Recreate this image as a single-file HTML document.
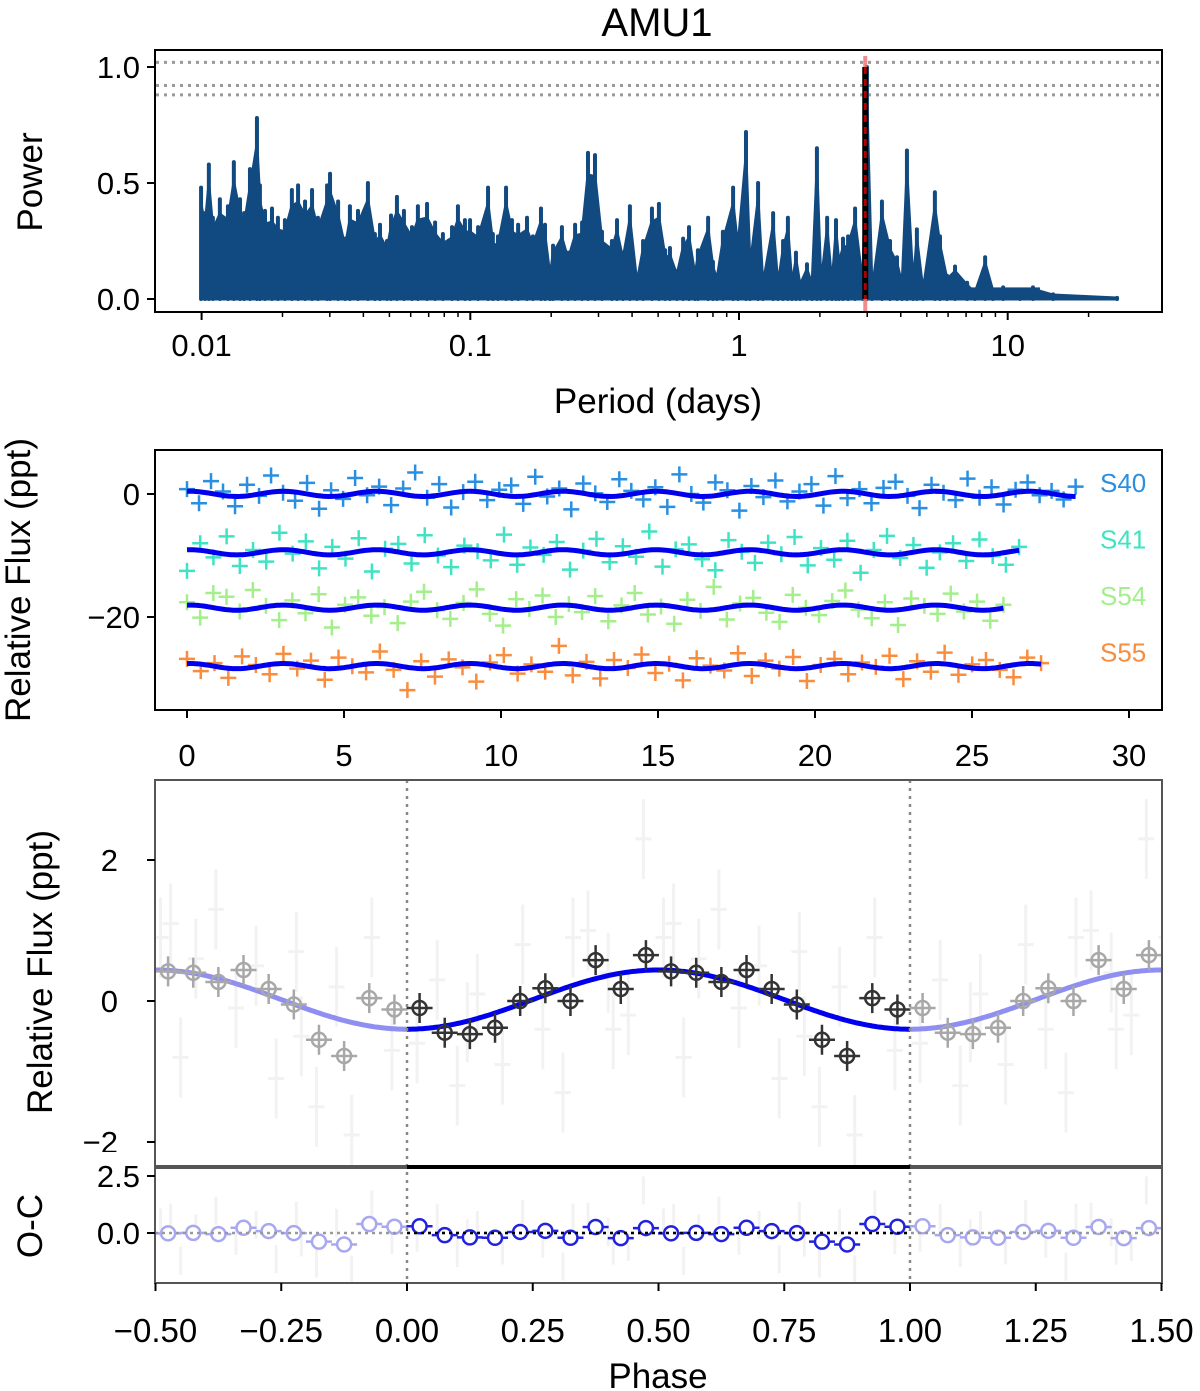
<!DOCTYPE html>
<html><head><meta charset="utf-8"><style>
body{margin:0;background:#fff;}
svg{display:block;font-family:"Liberation Sans",Arial,sans-serif;}
</style></head><body>
<svg id="c" width="1200" height="1391" viewBox="0 0 1200 1391" xmlns="http://www.w3.org/2000/svg"></svg>
<script>
// ---------- Panel 1: periodogram ----------
const pgLogPeriod=[-2.002,-1.987,-1.973,-1.958,-1.932,-1.902,-1.880,-1.857,-1.842,-1.820,-1.794,-1.783,-1.764,-1.738,-1.716,-1.690,-1.664,-1.641,-1.615,-1.589,-1.567,-1.533,-1.522,-1.492,-1.466,-1.448,-1.418,-1.381,-1.355,-1.336,-1.310,-1.295,-1.273,-1.247,-1.217,-1.195,-1.161,-1.131,-1.102,-1.068,-1.046,-1.020,-1.001,-0.971,-0.934,-0.916,-0.897,-0.867,-0.845,-0.822,-0.789,-0.767,-0.737,-0.722,-0.703,-0.692,-0.659,-0.636,-0.610,-0.584,-0.562,-0.536,-0.510,-0.473,-0.454,-0.432,-0.406,-0.380,-0.357,-0.324,-0.298,-0.275,-0.257,-0.231,-0.208,-0.186,-0.164,-0.153,-0.115,-0.097,-0.082,-0.060,-0.022,-0.004,0.026,0.041,0.071,0.089,0.127,0.145,0.164,0.182,0.197,0.212,0.227,0.253,0.272,0.290,0.305,0.328,0.346,0.361,0.372,0.387,0.406,0.432,0.461,0.476,0.495,0.532,0.562,0.588,0.607,0.625,0.648,0.662,0.685,0.729,0.748,0.774,0.804,0.849,0.878,0.916,0.945,0.983,1.046,1.094,1.169,1.407];
const pgPower=[0.48,0.37,0.58,0.35,0.43,0.40,0.59,0.43,0.37,0.56,0.78,0.49,0.38,0.39,0.35,0.34,0.47,0.49,0.42,0.47,0.35,0.49,0.54,0.42,0.26,0.40,0.38,0.50,0.28,0.32,0.25,0.36,0.44,0.38,0.31,0.40,0.41,0.33,0.28,0.31,0.40,0.34,0.34,0.31,0.48,0.28,0.27,0.48,0.34,0.32,0.35,0.27,0.39,0.32,0.11,0.23,0.31,0.20,0.32,0.33,0.63,0.62,0.29,0.25,0.34,0.20,0.40,0.08,0.25,0.39,0.41,0.21,0.22,0.12,0.26,0.31,0.12,0.21,0.35,0.16,0.10,0.29,0.48,0.26,0.72,0.16,0.50,0.07,0.37,0.07,0.25,0.35,0.07,0.20,0.07,0.15,0.07,0.65,0.07,0.35,0.07,0.34,0.18,0.26,0.27,0.39,0.07,1.00,0.04,0.42,0.25,0.18,0.07,0.64,0.07,0.30,0.04,0.46,0.27,0.10,0.14,0.07,0.03,0.18,0.04,0.05,0.01,0.05,0.02,0.005];
const pgFapLevels=[1.02,0.92,0.88];
const pgBestPeriod=2.95;
const pgXTicks=[0.01,0.1,1,10];
const pgXTickLabels=["0.01","0.1","1","10"];
const pgYTicks=[0,0.5,1.0];
const pgYTickLabels=["0.0","0.5","1.0"];

// ---------- Panel 2: light curves ----------
const sectorNames=["S40","S41","S54","S55"];
const sectorOffsets=[0,-9.5,-18.5,-28];
const sectorSpans=[28.3,26.5,26.0,27.2];
const sectorColors=["#2a8fe0","#3fe3c3","#a4ee8c","#f98d3f"];
const s40Flux=[0.8,-1.5,2.1,0.4,-2.0,1.5,-0.3,3.0,0.2,-1.1,1.8,-2.4,0.6,-0.8,2.6,-0.2,1.2,-1.8,0.9,3.5,-0.6,1.6,-2.2,0.3,2.0,-1.0,0.7,1.4,-1.6,2.8,-0.4,0.9,-2.5,1.7,0.1,-1.3,2.4,0.5,-0.9,1.1,-2.1,3.2,0.0,-1.4,1.9,0.6,-2.7,1.3,-0.5,2.2,-1.2,0.4,1.6,-1.9,2.9,-0.7,0.8,-1.5,1.0,2.0,-0.3,-2.3,1.5,0.2,-1.0,2.5,-0.6,1.1,-1.7,0.7,1.9,-0.2,0.5,-0.9,1.2];
const s41Flux=[-3.0,1.5,-0.8,2.6,-2.2,0.4,-1.5,3.2,-0.2,1.8,-2.6,0.9,-1.0,2.3,-3.1,0.6,1.4,-1.8,2.8,-0.5,-2.4,1.1,0.2,-1.3,2.9,-2.0,0.8,-0.4,1.7,-2.8,0.3,2.2,-1.6,1.0,-0.7,3.4,-2.3,0.5,1.3,-1.1,-2.9,2.0,0.1,-1.7,1.6,-0.3,2.5,-2.1,0.7,-1.2,1.9,-3.3,0.4,2.7,-0.9,1.2,-2.5,0.0,1.5,-1.4,2.1,-0.6,-2.0,0.9];
const s54Flux=[0.9,-1.6,2.4,1.8,-0.6,2.9,0.3,-2.0,1.2,-0.9,2.2,-3.2,0.5,1.7,-1.3,0.1,-2.5,1.0,2.6,-0.4,-1.8,0.8,3.0,-1.0,-2.9,1.4,-0.2,2.0,-1.5,0.6,-0.7,1.9,-2.2,0.4,2.4,-1.1,0.2,-2.6,1.3,-0.5,3.4,-1.9,0.7,1.6,-0.8,-2.3,2.1,0.0,-1.2,1.1,2.8,-0.3,-1.7,0.9,-2.8,1.5,0.3,-1.0,2.3,-0.6,1.0,-2.1,0.5];
const s55Flux=[1.2,-0.8,0.5,-1.9,1.6,0.2,-1.3,2.0,-0.4,0.9,-2.2,1.4,0.0,-1.0,2.4,-0.6,-3.9,0.8,-1.7,1.1,-0.2,-2.5,0.6,1.8,-1.2,0.3,-0.9,3.3,-1.5,0.7,-2.0,1.0,-0.3,1.9,-1.1,0.4,-2.3,1.3,0.1,-0.7,2.1,-1.6,0.9,-0.4,1.5,-2.4,0.2,1.2,-1.3,0.6,-0.1,1.7,-2.1,0.8,-0.9,2.2,-1.4,0.3,1.0,-0.6,-1.8,1.4,0.5];
const allSectorFlux=[s40Flux,s41Flux,s54Flux,s55Flux];
const modelPeriod=2.97, modelAmp=0.42, modelMean=0.02, modelT0=0.1;
const lcXTicks=[0,5,10,15,20,25,30];
const lcYTicks=[0,-20];
const lcYTickLabels=["0","\u221220"];

// ---------- Panel 3/4: phase-folded ----------
const binPhase=[0.025,0.075,0.125,0.175,0.225,0.275,0.325,0.375,0.425,0.475,0.525,0.575,0.625,0.675,0.725,0.775,0.825,0.875,0.925,0.975];
const binFlux=[-0.10,-0.45,-0.47,-0.38,0.00,0.18,0.00,0.58,0.17,0.65,0.42,0.40,0.27,0.44,0.17,-0.05,-0.55,-0.78,0.04,-0.12];
const rawPhase=[0.02,0.06,0.10,0.14,0.19,0.23,0.27,0.31,0.36,0.40,0.44,0.47,0.51,0.55,0.58,0.62,0.66,0.70,0.74,0.78,0.82,0.86,0.89,0.93,0.97,0.33,0.12,0.53,0.79,0.41];
const rawFlux=[-0.6,0.3,-1.2,0.1,-0.9,0.8,-0.4,-1.3,1.0,0.4,-0.2,2.3,0.9,-0.8,0.6,1.3,-0.1,0.5,-1.1,0.7,-1.5,0.2,-1.9,0.9,-0.7,0.9,-0.3,1.1,-0.5,-0.4];
const phXTicks=[-0.5,-0.25,0,0.25,0.5,0.75,1.0,1.25,1.5];
const phXTickLabels=["\u22120.50","\u22120.25","0.00","0.25","0.50","0.75","1.00","1.25","1.50"];
const phYTicks=[2,0,-2];
const phYTickLabels=["2","0","\u22122"];
const ocYTicks=[2.5,0];
const ocYTickLabels=["2.5","0.0"];

const NS="http://www.w3.org/2000/svg";
const svg=document.getElementById('c');
function mk(tag,attrs,parent){const e=document.createElementNS(NS,tag);for(const k in attrs)e.setAttribute(k,attrs[k]);(parent||svg).appendChild(e);return e;}
function txt(s,x,y,size,anchor,parent,extra){const t=mk('text',Object.assign({x:x,y:y,'font-size':size,'text-anchor':anchor||'middle',fill:'#000'},extra||{}),parent);t.textContent=s;return t;}

const p1x=p=>739+268.7*Math.log10(p);
const p1xl=lp=>739+268.7*lp;
const p1y=v=>299-232*v;
const p2x=t=>187+31.4*t;
const p2y=v=>494-6.15*v;
const p3x=ph=>407+503*ph;
const p3y=v=>1001-70.5*v;
const p4y=v=>1233-22.8*v;
const model=ph=>modelMean-modelAmp*Math.cos(2*Math.PI*ph);

let t=txt("AMU1",657,36,40);



// ===== Panel 1
const g1=mk('g',{});


pgFapLevels.forEach(v=>{const l=mk('line',{x1:156,x2:1161,y1:p1y(v),y2:p1y(v),stroke:'#999','stroke-width':3,'stroke-dasharray':'3,5'},g1);

});
let pts=[[p1xl(pgLogPeriod[0]),p1y(0)]];
pgLogPeriod.forEach((lp,i)=>pts.push([p1xl(lp),p1y(pgPower[i]*0.85)]));
pts.push([p1xl(pgLogPeriod[pgLogPeriod.length-1]),p1y(0)]);
const ptsStr=pts.map(p=>p.join(',')).join(' ');
let pl=mk('polygon',{points:ptsStr,fill:'#114a80',stroke:'#12497f','stroke-width':3,'stroke-linejoin':'round'},g1);


pgLogPeriod.forEach((lp,i)=>{const s=mk('line',{x1:p1xl(lp),x2:p1xl(lp),y1:p1y(0),y2:p1y(pgPower[i]),stroke:'#114a80','stroke-width':4,'stroke-linecap':'round'},g1);

});
let base=mk('rect',{x:p1xl(pgLogPeriod[0]),y:p1y(0.05),width:p1xl(1.12)-p1xl(pgLogPeriod[0]),height:p1y(0)-p1y(0.05),fill:'#114a80'},g1);


let bx=p1x(pgBestPeriod);
let rl=mk('line',{x1:bx,x2:bx,y1:56,y2:312,stroke:'#f07070','stroke-width':4,opacity:0.8},g1);


let pk=mk('line',{x1:bx,x2:bx,y1:p1y(1.0),y2:p1y(0),stroke:'#000','stroke-width':6},g1);


let rd=mk('line',{x1:bx,x2:bx,y1:p1y(1.0),y2:p1y(0),stroke:'#b00000','stroke-width':3,'stroke-dasharray':'7,5'},g1);


let f1=mk('rect',{x:155,y:50,width:1007,height:262,fill:'none',stroke:'#000','stroke-width':2},g1);


pgXTicks.forEach((p,i)=>{mk('line',{x1:p1x(p),x2:p1x(p),y1:312,y2:320,stroke:'#000','stroke-width':2},g1);
let tl=txt(pgXTickLabels[i],p1x(p),356,31,'middle',g1);

});
for(let d=-2;d<=1;d++)for(let m=2;m<=9;m++){const p=m*Math.pow(10,d);if(p>25||p<0.006)continue;mk('line',{x1:p1x(p),x2:p1x(p),y1:312,y2:317,stroke:'#000','stroke-width':1.5},g1);}
pgYTicks.forEach((v,i)=>{mk('line',{x1:147,x2:155,y1:p1y(v),y2:p1y(v),stroke:'#000','stroke-width':2},g1);
let tl=txt(pgYTickLabels[i],140,p1y(v)+11,31,'end',g1);

});
t=txt("Period (days)",658,413,35,'middle',g1);


t=txt("Power",42,182,35,'middle',g1,{transform:'rotate(-90 42 182)'});



// ===== Panel 2
const g2=mk('g',{});


allSectorFlux.forEach((arr,s)=>{
  const n=arr.length;
  arr.forEach((v,i)=>{const tt=i*sectorSpans[s]/(n-1);const x=p2x(tt),y=p2y(sectorOffsets[s]+v);
    const c=mk('path',{d:`M${x-8} ${y}H${x+8}M${x} ${y-8}V${y+8}`,stroke:sectorColors[s],'stroke-width':2.5},g2);
    
    });
  let d='';for(let k=0;k<=300;k++){const tt=k*sectorSpans[s]/300;d+=(k?'L':'M')+p2x(tt).toFixed(1)+' '+p2y(sectorOffsets[s]+model((tt-modelT0)/modelPeriod+0.5)).toFixed(1);}
  const m=mk('path',{d:d,fill:'none',stroke:'#0000ee','stroke-width':5},g2);
  
  
  const lg=txt(sectorNames[s],1100,492+s*56.5,26,'start',g2,{fill:sectorColors[s]});
  
  
});
let f2=mk('rect',{x:155,y:450,width:1007,height:260,fill:'none',stroke:'#000','stroke-width':2},g2);


lcXTicks.forEach(v=>{mk('line',{x1:p2x(v),x2:p2x(v),y1:710,y2:718,stroke:'#000','stroke-width':2},g2);
let tl=txt(String(v),p2x(v),766,31,'middle',g2);

});
lcYTicks.forEach((v,i)=>{mk('line',{x1:147,x2:155,y1:p2y(v),y2:p2y(v),stroke:'#000','stroke-width':2},g2);
let tl=txt(lcYTickLabels[i],140,p2y(v)+11,31,'end',g2);

});
t=txt("Relative Flux (ppt)",30,580,35,'middle',g2,{transform:'rotate(-90 30 580)'});



// ===== Panel 3 & 4
const g3=mk('g',{});


const cp=mk('clipPath',{id:'cp3'},g3);mk('rect',{x:155,y:780,width:1007,height:385},cp);
const cp4=mk('clipPath',{id:'cp4'},g3);mk('rect',{x:155,y:1168,width:1007,height:115},cp4);
const in3=mk('g',{'clip-path':'url(#cp3)'},g3);
const in4=mk('g',{'clip-path':'url(#cp4)'},g3);
[-1,0,1].forEach(sh=>{rawPhase.forEach((ph,i)=>{const x=p3x(ph+sh),y=p3y(rawFlux[i]);
  const r=mk('path',{d:`M${x} ${y-40}V${y+40}M${x-8} ${y}H${x+8}`,stroke:'#e6e6e6','stroke-width':3,opacity:0.5},in3);
  
  
  const y4=p4y(rawFlux[i]-model(ph));
  const r4=mk('path',{d:`M${x} ${y4-14}V${y4+14}`,stroke:'#e6e6e6','stroke-width':3,opacity:0.5},in4);
  
  });});
[-1,0,1].forEach(sh=>{
  let d='';for(let k=0;k<=200;k++){const ph=k/200;d+=(k?'L':'M')+p3x(ph+sh).toFixed(1)+' '+p3y(model(ph)).toFixed(1);}
  const m=mk('path',{d:d,fill:'none',stroke:sh?'#8f8ff2':'#0000ee','stroke-width':5},in3);
  
  
  binPhase.forEach((ph,i)=>{const x=p3x(ph+sh),y=p3y(binFlux[i]);const col=sh?'#a8a8a8':'#333';
    const e=mk('path',{d:`M${x} ${y-15}V${y+15}M${x-13} ${y}H${x+13}`,stroke:col,'stroke-width':2.5},in3);
    
    
    const c=mk('circle',{cx:x,cy:y,r:7,fill:'none',stroke:col,'stroke-width':2.5},in3);
    
    
    const y4=p4y(binFlux[i]-model(ph));const oc=sh?'#a8a8f0':'#2222dd';
    const e4=mk('path',{d:`M${x-13} ${y4}H${x+13}`,stroke:oc,'stroke-width':2.5},in4);
    
    
    const c4=mk('circle',{cx:x,cy:y4,r:7,fill:'#fff',stroke:oc,'stroke-width':2.5},in4);
    
    });
});
let z=mk('line',{x1:155,x2:1162,y1:p4y(0),y2:p4y(0),stroke:'#999','stroke-width':2.5,'stroke-dasharray':'3,4'},g3);


z=mk('line',{x1:p3x(0),x2:p3x(1),y1:p4y(0),y2:p4y(0),stroke:'#000','stroke-width':2.5,'stroke-dasharray':'3,4'},g3);


[0,1].forEach(ph=>{const v=mk('line',{x1:p3x(ph),x2:p3x(ph),y1:780,y2:1283,stroke:'#888','stroke-width':2.5,'stroke-dasharray':'3,5'},g3);

});
let f3=mk('rect',{x:155,y:780,width:1007,height:386,fill:'none',stroke:'#555','stroke-width':2},g3);


let f4=mk('rect',{x:155,y:1168,width:1007,height:115,fill:'none',stroke:'#555','stroke-width':2},g3);


let tk=mk('line',{x1:p3x(0),x2:p3x(1),y1:1167,y2:1167,stroke:'#000','stroke-width':4},g3);


phXTicks.forEach((v,i)=>{mk('line',{x1:p3x(v),x2:p3x(v),y1:1283,y2:1291,stroke:'#000','stroke-width':2},g3);
let tl=txt(phXTickLabels[i],p3x(v),1342,33,'middle',g3);

});
phYTicks.forEach((v,i)=>{mk('line',{x1:147,x2:155,y1:p3y(v),y2:p3y(v),stroke:'#000','stroke-width':2},g3);
let tl=txt(phYTickLabels[i],118,p3y(v)+11,31,'end',g3);

});
mk('rect',{x:60,y:1152,width:90,height:16,fill:'#fff'},g3);
ocYTicks.forEach((v,i)=>{mk('line',{x1:147,x2:155,y1:p4y(v),y2:p4y(v),stroke:'#000','stroke-width':2},g3);
let tl=txt(ocYTickLabels[i],140,p4y(v)+11,31,'end',g3);

});
t=txt("Relative Flux (ppt)",52,972,35,'middle',g3,{transform:'rotate(-90 52 972)'});


t=txt("O-C",42,1226,35,'middle',g3,{transform:'rotate(-90 42 1226)'});


t=txt("Phase",658,1388,35,'middle',g3);


</script>
</body></html>
